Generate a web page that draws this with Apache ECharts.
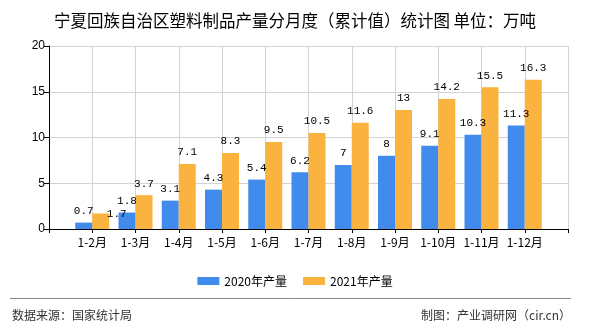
<!DOCTYPE html>
<html><head><meta charset="utf-8">
<script src="https://cdn.jsdelivr.net/npm/echarts@6/dist/echarts.min.js"></script>
<style>html,body{margin:0;padding:0;background:#fff}#c{width:590px;height:330px}</style>
</head><body><div id="c"></div>
<script>
const titleText = '宁夏回族自治区塑料制品产量分月度（累计值）统计图 单位：万吨';
const months = ['1-2月','1-3月','1-4月','1-5月','1-6月','1-7月','1-8月','1-9月','1-10月','1-11月','1-12月'];
const prod2020 = [0.7, 1.8, 3.1, 4.3, 5.4, 6.2, 7, 8, 9.1, 10.3, 11.3];
const prod2021 = [1.7, 3.7, 7.1, 8.3, 9.5, 10.5, 11.6, 13, 14.2, 15.5, 16.3];
const seriesNames = ['2020年产量', '2021年产量'];
const yMin = 0, yMax = 20, yStep = 5;
const sourceText = '数据来源：国家统计局';
const creditText = '制图：产业调研网（cir.cn）';

const cats = [''].concat(months, ['']);
const pad = arr => ['-'].concat(arr, ['-']);
const cjk = '"Noto Sans CJK SC", "Liberation Sans", sans-serif';
const mono = '"Liberation Mono", "DejaVu Sans Mono", monospace';
const valueLabel = {show: true, position: 'top', distance: 6, color: '#000', fontSize: 11, fontFamily: mono};

const d2021 = pad(prod2021).map((v, i) => i === 1 ? {value: v, label: {offset: [16, 12]}} : v);

const chart = echarts.init(document.getElementById('c'), null, {renderer: 'canvas'});
chart.setOption({
  animation: false,
  backgroundColor: '#fff',
  title: {text: titleText, left: 'center', top: 7, textStyle: {fontSize: 16.5, fontWeight: 'normal', color: '#000', fontFamily: cjk}},
  grid: {left: 49, right: 22, top: 46, bottom: 101, containLabel: false},
  legend: {top: 270, left: 'center', itemWidth: 22, itemHeight: 8, itemGap: 16, icon: 'rect',
    textStyle: {fontSize: 12, color: '#000', fontFamily: cjk}, data: seriesNames},
  xAxis: {type: 'category', data: cats, boundaryGap: false,
    axisLine: {lineStyle: {color: '#000'}},
    axisTick: {show: true, length: 4, lineStyle: {color: '#000'}},
    axisLabel: {color: '#000', fontSize: 12, fontFamily: cjk, margin: 7, interval: 0},
    splitLine: {show: true, lineStyle: {color: '#d3d3d3'}}},
  yAxis: {type: 'value', min: yMin, max: yMax, interval: yStep,
    axisLine: {show: true, lineStyle: {color: '#000'}},
    axisTick: {show: true, length: 5, lineStyle: {color: '#000'}},
    axisLabel: {color: '#000', fontSize: 12, fontFamily: '"Liberation Sans", sans-serif', margin: 4},
    splitLine: {show: true, lineStyle: {color: '#d3d3d3'}}},
  series: [
    {name: seriesNames[0], type: 'bar', data: pad(prod2020), barWidth: 17, barGap: '0%', itemStyle: {color: '#418BED'}, label: valueLabel},
    {name: seriesNames[1], type: 'bar', data: d2021, barWidth: 17, barGap: '0%', itemStyle: {color: '#FBB340'}, label: valueLabel}
  ],
  graphic: [
    {type: 'line', shape: {x1: 10, y1: 298.5, x2: 571, y2: 298.5}, style: {stroke: '#888', lineWidth: 1}},
    {type: 'text', left: 12, top: 309, style: {text: sourceText, fontSize: 12, fill: '#333', fontFamily: cjk}},
    {type: 'text', right: 19, top: 309, style: {text: creditText, fontSize: 12, fill: '#333', fontFamily: cjk}}
  ]
});
</script></body></html>
